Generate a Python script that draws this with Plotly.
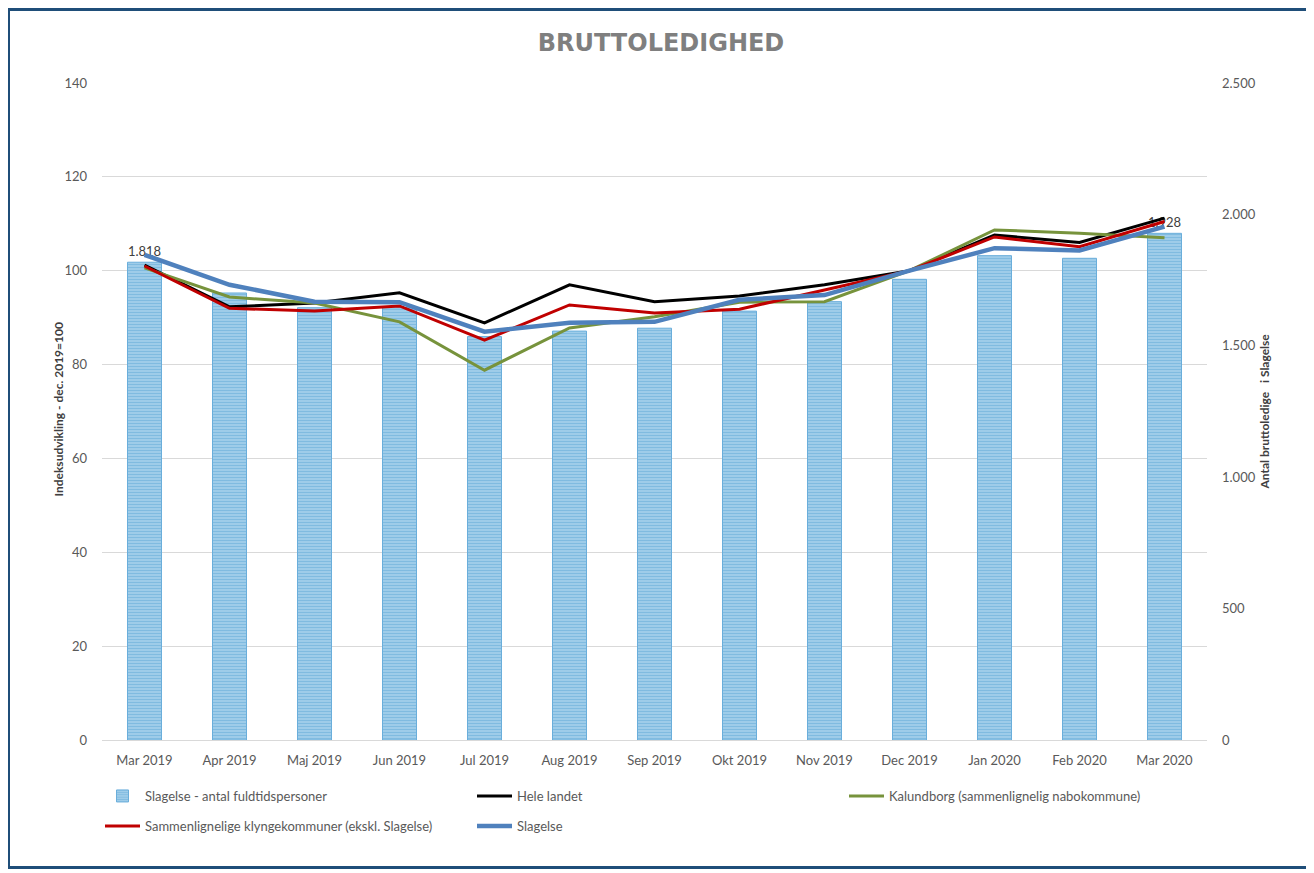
import plotly.graph_objects as go

months = ["Mar 2019", "Apr 2019", "Maj 2019", "Jun 2019", "Jul 2019", "Aug 2019",
          "Sep 2019", "Okt 2019", "Nov 2019", "Dec 2019", "Jan 2020", "Feb 2020", "Mar 2020"]

slagelse_antal = [1818, 1701, 1645, 1645, 1535, 1556, 1567, 1632, 1668, 1753, 1843, 1833, 1928]
hele_landet = [101.2, 92.3, 93.1, 95.3, 88.9, 97.0, 93.4, 94.6, 97.0, 100.0, 107.6, 106.0, 111.2]
kalundborg = [100.6, 94.4, 93.1, 89.1, 78.8, 87.8, 90.2, 93.3, 93.4, 100.0, 108.7, 108.0, 107.0]
klynge = [101.0, 92.0, 91.4, 92.5, 85.2, 92.7, 91.0, 91.8, 95.9, 100.0, 107.2, 105.1, 110.5]
slagelse_idx = [103.4, 97.0, 93.4, 93.3, 87.0, 88.9, 89.1, 93.8, 94.8, 100.0, 104.8, 104.3, 109.4]

left_ticks = [0, 20, 40, 60, 80, 100, 120, 140]
right_ticks = [0, 500, 1000, 1500, 2000, 2500]

FONT = "Lato"
GRAY = "#595959"

OFF = 8  # page body margin
W, H = 1314 - OFF, 873 - OFF
# plot area in screen pixels
L, R, T, B = 102, 1207, 83, 740

bar_text = [f"{v:,}".replace(",", ".") if i in (0, len(slagelse_antal) - 1) else ""
            for i, v in enumerate(slagelse_antal)]

fig = go.Figure()
fig.add_trace(go.Bar(
    x=months, y=slagelse_antal, name="Slagelse - antal fuldtidspersoner",
    yaxis="y", legend="legend",
    marker=dict(color="#8CC5E8", line=dict(color="#6AAEDB", width=1),
                pattern=dict(shape="-", fgcolor="#3E95CC", bgcolor="#C2E1F4",
                             size=3, solidity=0.7)),
    text=bar_text, textposition="outside", cliponaxis=False,
    textfont=dict(family=FONT, size=13, color="#404040"),
))
fig.add_trace(go.Scatter(x=months, y=hele_landet, name="Hele landet", yaxis="y2",
                         legend="legend",
                         mode="lines", line=dict(color="#000000", width=3)))
fig.add_trace(go.Scatter(x=months, y=kalundborg, name="Kalundborg (sammenlignelig nabokommune)",
                         yaxis="y2", legend="legend",
                         mode="lines", line=dict(color="#77933C", width=3)))
fig.add_trace(go.Scatter(x=months, y=klynge, name="Sammenlignelige klyngekommuner (ekskl. Slagelse)",
                         yaxis="y2", legend="legend2",
                         mode="lines", line=dict(color="#C00000", width=3)))
fig.add_trace(go.Scatter(x=months, y=slagelse_idx, name="Slagelse", yaxis="y2",
                         legend="legend2",
                         mode="lines", line=dict(color="#4F81BD", width=4.5)))


def px_x(p):
    return (p - L) / (R - L)


def px_y(p):
    return (B - p) / (B - T)


legend_common = dict(orientation="h", xanchor="left", yanchor="middle",
                     entrywidth=322, entrywidthmode="pixels", traceorder="normal",
                     font=dict(family=FONT, size=13, color=GRAY), itemwidth=35,
                     bgcolor="rgba(0,0,0,0)")

fig.update_layout(
    width=W, height=H,
    margin=dict(l=L - OFF, r=W - (R - OFF), t=T - OFF, b=H - (B - OFF), autoexpand=False),
    paper_bgcolor="white", plot_bgcolor="white",
    separators=",.",
    font=dict(family=FONT, size=12, color=GRAY),
    title=dict(text="<b>BRUTTOLEDIGHED</b>", x=(661 - OFF) / W, xanchor="center",
               y=1 - (43 - OFF) / H, yanchor="middle",
               font=dict(family="DejaVu Sans", size=24, color="#7F7F7F")),
    xaxis=dict(showgrid=False, showline=True, linecolor="#D9D9D9", linewidth=1,
               ticks="", tickfont=dict(size=13, color=GRAY), ticklabelstandoff=8),
    yaxis=dict(side="right", range=[0, 2500], tickvals=right_ticks, tickformat=",d",
               showgrid=False, zeroline=False, showline=False,
               tickfont=dict(size=13, color=GRAY), ticklabelstandoff=14),
    yaxis2=dict(overlaying="y", side="left", range=[0, 140], tickvals=left_ticks,
                showgrid=True, gridcolor="#D9D9D9", gridwidth=1, zeroline=False,
                showline=False, tickfont=dict(size=13, color=GRAY), ticklabelstandoff=14),
    bargap=0.6,
    showlegend=True,
    legend=dict(x=px_x(100), y=px_y(796), **legend_common),
    legend2=dict(x=px_x(100), y=px_y(826), **legend_common),
    annotations=[
        dict(text="<b>Indeksudvikling - dec. 2019=100</b>", textangle=-90,
             xref="paper", yref="paper", x=px_x(48), y=px_y(410),
             showarrow=False, font=dict(family=FONT, size=12, color="#404040")),
        dict(text="<b>Antal bruttoledige   i Slagelse</b>", textangle=-90,
             xref="paper", yref="paper", x=px_x(1273), y=px_y(412),
             showarrow=False, font=dict(family=FONT, size=12, color="#404040")),
    ],
    shapes=[dict(type="rect", xref="paper", yref="paper",
                 x0=px_x(8.5), x1=px_x(1309.5), y0=px_y(867.5), y1=px_y(9.5),
                 line=dict(color="#1F4E79", width=3), layer="above")],
)

fig.write_html("out.html")
